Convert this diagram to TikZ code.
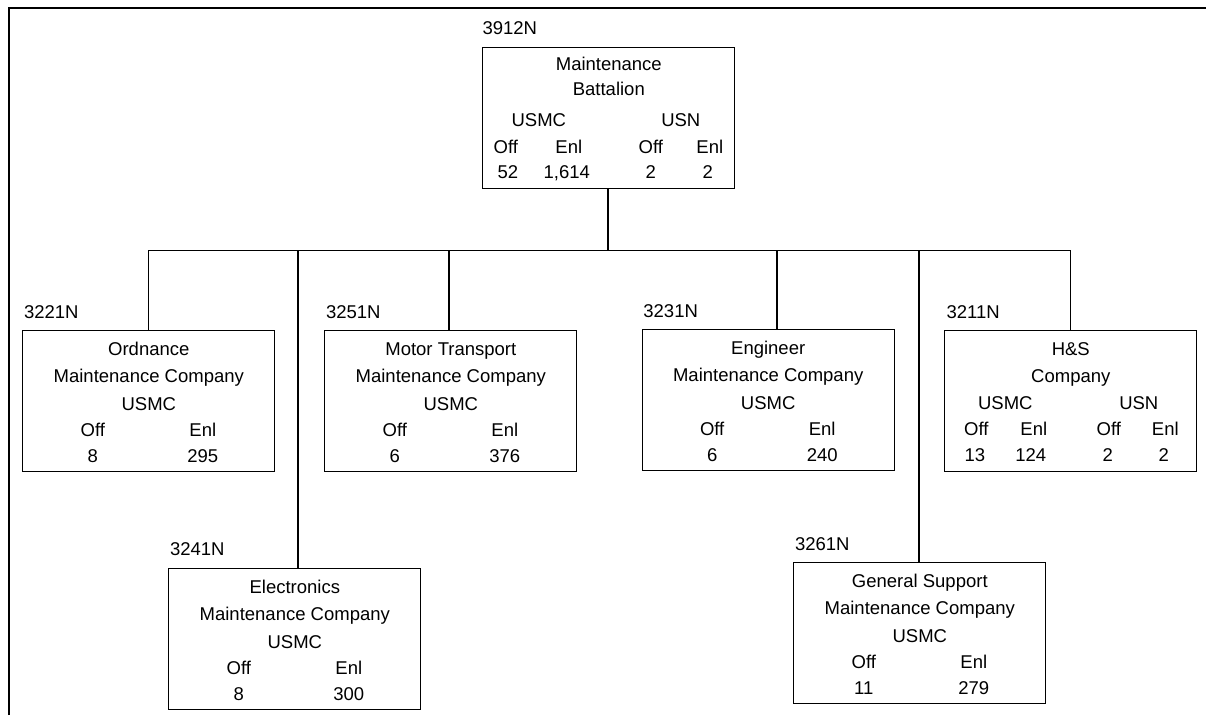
\documentclass[tikz,border=0pt]{standalone}
\usepackage{fontspec}
\setmainfont{Liberation Sans}
\usetikzlibrary{calc}
\tikzset{
  unitbox/.style={draw=black, line width=1pt, minimum width=252pt, inner sep=0pt, anchor=north west},
  txt/.style={inner sep=0pt, anchor=base, font=\fontsize{18.5}{22}\selectfont},
  codelbl/.style={inner sep=0pt, anchor=base west, font=\fontsize{18.5}{22}\selectfont},
  conn/.style={line width=1.2pt, black},
  frameline/.style={line width=2.3pt, black}
}
% single-service company box: name, x, y, code, line1, line2, off, enl
\newcommand\cobox[8]{%
  \node[unitbox, minimum height=141pt] (#1) at (#2,#3) {};
  \node[codelbl] (#1-code) at ($(#1.north west)+(1.5,-12)$) {#4};
  \node[txt] (#1-l1) at ($(#1.north)+(0,25.6)$) {#5};
  \node[txt] (#1-l2) at ($(#1.north)+(0,52.6)$) {#6};
  \node[txt] (#1-svc) at ($(#1.north)+(0,80.6)$) {USMC};
  \node[txt] (#1-off) at ($(#1.north)+(-56,106.6)$) {Off};
  \node[txt] (#1-enl) at ($(#1.north)+(54,106.6)$) {Enl};
  \node[txt] (#1-noff) at ($(#1.north)+(-56,132.6)$) {#7};
  \node[txt] (#1-nenl) at ($(#1.north)+(54,132.6)$) {#8};
}
\begin{document}
\begin{tikzpicture}[x=1pt, y=-1pt]
\useasboundingbox (0,0) rectangle (1206,715);
\fill[white] (0,0) rectangle (1206,715);
% frame (left and top edges)
\coordinate (fbl) at (9.2,715);
\coordinate (ftl) at (9.2,7.7);
\coordinate (ftr) at (1206,7.7);
\draw[frameline] (fbl) -- (ftl) -- (ftr);

% main battalion box
\node[unitbox, minimum height=141.6pt] (bn) at (482.3,46.7) {};
\node[codelbl] (bn-code) at ($(bn.north west)+(0,-12)$) {3912N};
\node[txt] (bn-l1) at ($(bn.north)+(0,23.6)$) {Maintenance};
\node[txt] (bn-l2) at ($(bn.north)+(0,48.6)$) {Battalion};
\node[txt] (bn-usmc) at ($(bn.north)+(-70,79.6)$) {USMC};
\node[txt] (bn-usn) at ($(bn.north)+(72,79.6)$) {USN};
\node[txt] (bn-off1) at ($(bn.north)+(-103,106.6)$) {Off};
\node[txt] (bn-enl1) at ($(bn.north)+(-40,106.6)$) {Enl};
\node[txt] (bn-off2) at ($(bn.north)+(42,106.6)$) {Off};
\node[txt] (bn-enl2) at ($(bn.north)+(101,106.6)$) {Enl};
\node[txt] (bn-n1) at ($(bn.north)+(-101,131.6)$) {52};
\node[txt] (bn-n2) at ($(bn.north)+(-42,131.6)$) {1,614};
\node[txt] (bn-n3) at ($(bn.north)+(42,131.6)$) {2};
\node[txt] (bn-n4) at ($(bn.north)+(99,131.6)$) {2};

% companies
\cobox{ord}{22.3}{330}{3221N}{Ordnance}{Maintenance Company}{8}{295}
\cobox{mt}{324.3}{330}{3251N}{Motor Transport}{Maintenance Company}{6}{376}
\cobox{eng}{641.7}{329.3}{3231N}{Engineer}{Maintenance Company}{6}{240}
\cobox{ele}{168.3}{567.7}{3241N}{Electronics}{Maintenance Company}{8}{300}
\cobox{gs}{793.3}{562.3}{3261N}{General Support}{Maintenance Company}{11}{279}

% H&S company
\node[unitbox, minimum height=141pt] (hs) at (944.3,330) {};
\node[codelbl] (hs-code) at ($(hs.north west)+(2,-12)$) {3211N};
\node[txt] (hs-l1) at ($(hs.north)+(0,25.6)$) {H\&S};
\node[txt] (hs-l2) at ($(hs.north)+(0,52.6)$) {Company};
\node[txt] (hs-usmc) at ($(hs.north)+(-65.5,79)$) {USMC};
\node[txt] (hs-usn) at ($(hs.north)+(68,79)$) {USN};
\node[txt] (hs-off1) at ($(hs.north)+(-94.5,105.6)$) {Off};
\node[txt] (hs-enl1) at ($(hs.north)+(-37,105.6)$) {Enl};
\node[txt] (hs-off2) at ($(hs.north)+(38,105.6)$) {Off};
\node[txt] (hs-enl2) at ($(hs.north)+(94.5,105.6)$) {Enl};
\node[txt] (hs-n1) at ($(hs.north)+(-96,131.6)$) {13};
\node[txt] (hs-n2) at ($(hs.north)+(-40,131.6)$) {124};
\node[txt] (hs-n3) at ($(hs.north)+(37,131.6)$) {2};
\node[txt] (hs-n4) at ($(hs.north)+(93,131.6)$) {2};

% connectors
\coordinate (bus-main) at (608,250.6);
\coordinate (bus-ord) at (148.3,250.6);
\coordinate (bus-ele) at (298,250.6);
\coordinate (bus-mt) at (449,250.6);
\coordinate (bus-eng) at (777,250.6);
\coordinate (bus-gs) at (919,250.6);
\coordinate (bus-hs) at (1070.8,250.6);
\draw[conn] (bus-main |- bn.south) -- (bus-main);
\draw[conn] (bus-ord) -- (bus-hs);
\draw[conn] (bus-ord) -- (bus-ord |- ord.north);
\draw[conn] (bus-ele) -- (bus-ele |- ele.north);
\draw[conn] (bus-mt) -- (bus-mt |- mt.north);
\draw[conn] (bus-eng) -- (bus-eng |- eng.north);
\draw[conn] (bus-gs) -- (bus-gs |- gs.north);
\draw[conn] (bus-hs) -- (bus-hs |- hs.north);
\end{tikzpicture}
\end{document}
